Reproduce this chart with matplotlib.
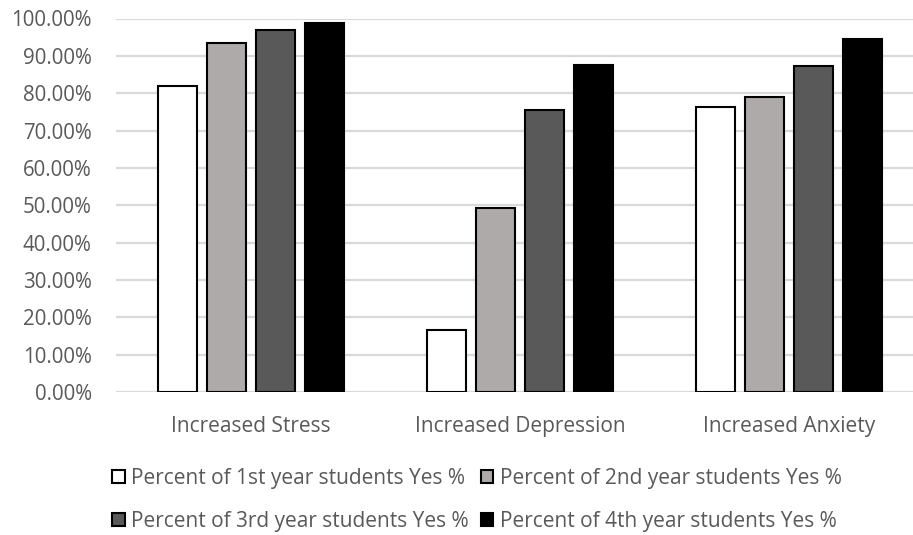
import matplotlib
matplotlib.use("Agg")
import matplotlib.pyplot as plt
from matplotlib.ticker import PercentFormatter, MultipleLocator
import numpy as np

categories = ["Increased Stress", "Increased Depression", "Increased Anxiety"]
series_names = [
    "Percent of 1st year students Yes %",
    "Percent of 2nd year students Yes %",
    "Percent of 3rd year students Yes %",
    "Percent of 4th year students Yes %",
]
year1 = [0.820, 0.166, 0.762]
year2 = [0.934, 0.493, 0.791]
year3 = [0.970, 0.756, 0.873]
year4 = [0.989, 0.875, 0.946]
values = [year1, year2, year3, year4]
colors = ["#FFFFFF", "#AEAAAA", "#595959", "#000000"]

plt.rcParams["font.family"] = ["Open Sans", "DejaVu Sans"]
text_color = "#595959"

fig = plt.figure(figsize=(9.13, 5.35), dpi=100)
ax = fig.add_axes([116 / 913, 1 - 392 / 535, (924 - 116) / 913, (392 - 18.5) / 535])

x = np.arange(len(categories))
width = 0.145
step = 0.182
handles = []
for i, (vals, col, name) in enumerate(zip(values, colors, series_names)):
    bars = ax.bar(x + (i - 1.5) * step, vals, width, color=col, edgecolor="black",
                  linewidth=1.5, label=name, zorder=3)
    handles.append(bars)

ax.set_xlim(-0.5, 2.5)
ax.set_ylim(0, 1.0)
ax.yaxis.set_major_locator(MultipleLocator(0.1))
ax.yaxis.set_major_formatter(PercentFormatter(1.0, decimals=2))
ax.set_xticks(x)
ax.set_xticklabels(categories)
ax.grid(axis="y", color="#D9D9D9", linewidth=1.6, zorder=0)
for s in ax.spines.values():
    s.set_visible(False)
ax.tick_params(axis="both", length=0, colors=text_color)
ax.tick_params(axis="y", pad=17.5, labelsize=14.8)
ax.tick_params(axis="x", pad=17, labelsize=15)

# two-row legend, filled row by row
order = [0, 2, 1, 3]
leg = fig.legend([handles[i] for i in order], [series_names[i] for i in order],
                 ncol=2, loc="center left",
                 bbox_to_anchor=(112 / 913, 1 - 500 / 535),
                 frameon=False, fontsize=15, handlelength=0.6,
                 handleheight=0.6, handletextpad=0.3, columnspacing=0.6,
                 labelspacing=1.05, borderaxespad=0, borderpad=0)
for t in leg.get_texts():
    t.set_color(text_color)

fig.savefig("out.png", dpi=100)
